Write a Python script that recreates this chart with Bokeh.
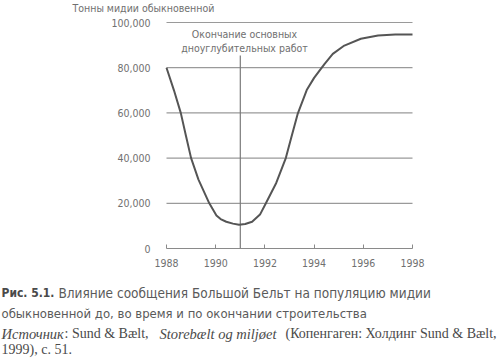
from bokeh.plotting import figure
from bokeh.models import Range1d, Label, FixedTicker, NumeralTickFormatter
from bokeh.embed import file_html
from bokeh.resources import INLINE

# ---- data ----
years = [1988.0, 1988.3, 1988.58, 1988.79, 1989.0, 1989.3, 1989.74, 1990.03,
         1990.2, 1990.43, 1990.7, 1990.95, 1991.2, 1991.48, 1991.8, 1992.04,
         1992.46, 1992.85, 1993.07, 1993.34, 1993.7, 1994.0, 1994.42, 1994.76,
         1995.23, 1995.9, 1996.6, 1997.3, 1998.0]
mussels = [80000, 70100, 60000, 49900, 40000, 30500, 20000, 14650,
           13000, 11850, 11000, 10500, 10850, 11850, 15000, 20000,
           29000, 40000, 49000, 59800, 70100, 75500, 81600, 86100,
           89800, 92800, 94200, 94700, 94700]
x_ticks = [1988, 1990, 1992, 1994, 1996, 1998]
y_ticks = [0, 20000, 40000, 60000, 80000, 100000]
grid_values = [20000, 40000, 60000, 80000, 100000]
dredging_end_year = [1991]
dredging_line_top = [85400]
annotation_lines = ["Окончание основных", "дноуглубительных работ"]
y_title = "Тонны мидии обыкновенной"
fig_label = "Рис. 5.1."
caption_1 = "Влияние сообщения Большой Бельт на популяцию мидии"
caption_2 = "обыкновенной до, во время и по окончании строительства"
source_parts = ["Источник", ": Sund & Bælt,", "Storebælt og miljøet",
                "(Копенгаген: Холдинг Sund & Bælt,"]
source_line_2 = "1999), с. 51."

SANS = "DejaVu Sans Condensed"
SERIF = "Liberation Serif"
TXT = "#707070"
W, H = 500, 359

# canvas mapping: 1988 -> x=166 px, 24.6 px per year; 0 -> y=248 px, 226 px per 100000
PX_YR = 24.6
U_PX = 100000 / 226.0
x_start = 1988 - 166 / PX_YR
x_end = 1988 + (W - 166) / PX_YR
y_start = -(H - 248) * U_PX
y_end = 100000 + 22 * U_PX

p = figure(width=W, height=H, output_backend="svg", toolbar_location=None,
           x_range=Range1d(x_start, x_end), y_range=Range1d(y_start, y_end),
           min_border=0, min_border_left=0, min_border_right=0,
           min_border_top=0, min_border_bottom=0)
p.outline_line_color = None
p.xgrid.grid_line_color = None
p.ygrid.grid_line_color = None

# y axis: labels only, fixed at x = 1988
yax = p.yaxis[0]
yax.fixed_location = 1988
yax.ticker = FixedTicker(ticks=y_ticks)
yax.formatter = NumeralTickFormatter(format="0,0")
yax.axis_line_color = None
yax.major_tick_line_color = None
yax.minor_tick_line_color = None
yax.major_tick_out = 0
yax.major_tick_in = 0
yax.major_label_standoff = 16
yax.major_label_text_font = SANS
yax.major_label_text_font_size = "10.5px"
yax.major_label_text_color = TXT

# x axis fixed at y = 0
xax = p.xaxis[0]
xax.fixed_location = 0
xax.ticker = FixedTicker(ticks=x_ticks)
xax.bounds = (1988, 1998)
xax.axis_line_color = "#8a8a8a"
xax.axis_line_width = 1.2
xax.major_tick_line_color = "#8a8a8a"
xax.major_tick_in = 4
xax.major_tick_out = 0
xax.minor_tick_line_color = None
xax.major_label_standoff = 10
xax.major_label_text_font = SANS
xax.major_label_text_font_size = "10.5px"
xax.major_label_text_color = TXT

# gridlines
p.segment(x0=x_ticks[0], x1=x_ticks[-1], y0=grid_values, y1=grid_values,
          line_color="#9a9a9a", line_width=1.2)
# end of dredging line
p.segment(x0=dredging_end_year, x1=dredging_end_year, y0=[0], y1=dredging_line_top,
          line_color="#7a7a7a", line_width=1.2)
# curve
p.line(years, mussels, line_color="#555555", line_width=2, line_join="round")

def dx(X):
    return 1988 + (X - 166) / PX_YR
def dy(Y):
    return (248 - Y) * U_PX

def label(text, X, Y, font=SANS, size="10.5px", color=TXT, style="normal", align="left"):
    p.add_layout(Label(x=dx(X), y=dy(Y), text=text, text_align=align,
                       text_baseline="middle", text_font=font, text_font_size=size,
                       text_color=color, text_font_style=style))

label(annotation_lines[0], 244, 33, align="center")
label(annotation_lines[1], 244, 47, align="center")
label(y_title, 72, 7)
label(fig_label, 1, 292, size="12px", color="#4a4a4a", style="bold")
label(caption_1, 58, 292, size="13.5px", color="#5a5a5a")
label(caption_2, 1, 313, size="13px", color="#5a5a5a")
label(source_parts[0], 1, 333, font=SERIF, size="14.5px", color="#4a4a4a", style="italic")
label(source_parts[1], 64, 333, font=SERIF, size="14px", color="#4a4a4a")
label(source_parts[2], 159, 333, font=SERIF, size="14.5px", color="#4a4a4a", style="italic")
label(source_parts[3], 285, 333, font=SERIF, size="14px", color="#4a4a4a")
label(source_line_2, 1, 349, font=SERIF, size="14px", color="#4a4a4a")

open("out.html", "w").write(file_html(p, INLINE))
